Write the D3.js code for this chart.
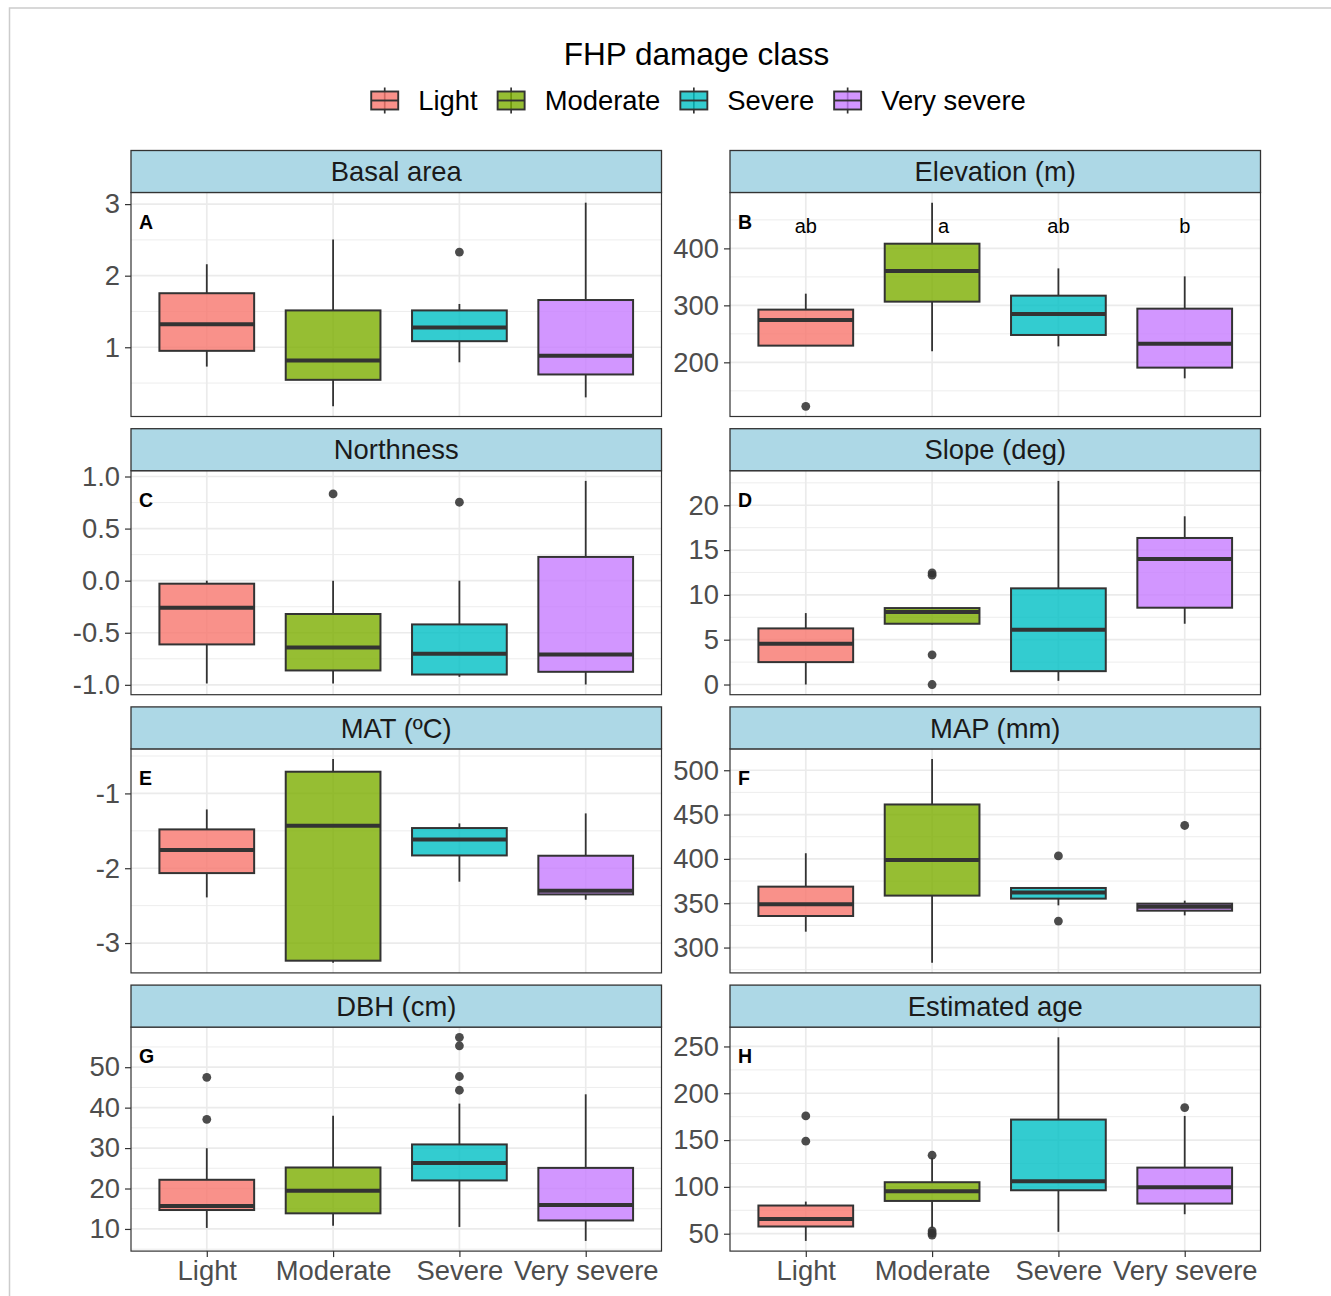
<!DOCTYPE html>
<html><head><meta charset="utf-8">
<script src="https://cdn.jsdelivr.net/npm/d3@7"></script>
<style>
body{margin:0;background:#fff}
svg{display:block}
text{font-family:"Liberation Sans",Arial,Helvetica,sans-serif}
</style>
</head><body>
<svg id="chart" width="1331" height="1296"></svg>
<script>
// ---------------- data ----------------
const categories = ["Light", "Moderate", "Severe", "Very severe"];
const classColors = ["#F8766D", "#7CAE00", "#00BFC4", "#C77CFF"];
const legendTitle = "FHP damage class";

const panelTitles = ["Basal area", "Elevation (m)", "Northness", "Slope (deg)",
                     "MAT (\u00BAC)", "MAP (mm)", "DBH (cm)", "Estimated age"];
const panelTags = ["A", "B", "C", "D", "E", "F", "G", "H"];

// box stats per class: [lower whisker, Q1, median, Q3, upper whisker]
const basalArea = [[0.73, 0.95, 1.32, 1.755, 2.16], [0.175, 0.545, 0.815, 1.515, 2.505],
                   [0.79, 1.085, 1.275, 1.515, 1.605], [0.30, 0.62, 0.88, 1.66, 3.02]];
const basalAreaOutliers = [[], [], [2.33], []];
const basalAreaTicks = ["1", "2", "3"];

const elevation = [[229, 229.3, 274.4, 292.5, 320.5], [219.3, 306.5, 360.3, 408.2, 480.2],
                   [228, 248, 284.9, 317, 364.9], [171.9, 190.7, 232.8, 294.2, 350.9]];
const elevationOutliers = [[122.8], [], [], []];
const elevationTicks = ["200", "300", "400"];
const elevationLetters = ["ab", "a", "ab", "b"];
const elevationLetterY = 440;
const elevationLetterNudge = [0, 0.09, 0, 0]; // in category units

const northness = [[-0.987, -0.612, -0.26, -0.029, 0.0], [-0.987, -0.862, -0.641, -0.32, 0.0],
                   [-0.923, -0.901, -0.702, -0.42, 0.0], [-0.997, -0.875, -0.708, 0.228, 0.958]];
const northnessOutliers = [[], [0.833], [0.753], []];
const northnessTicks = ["-1.0", "-0.5", "0.0", "0.5", "1.0"];

const slope = [[0, 2.5, 4.54, 6.26, 7.97], [6.7, 6.78, 8.08, 8.53, 8.6],
               [0.41, 1.49, 6.11, 10.73, 22.72], [6.78, 8.57, 14.0, 16.35, 18.77]];
const slopeOutliers = [[], [12.2, 12.45, 3.31, 0], [], []];
const slopeTicks = ["0", "5", "10", "15", "20"];

const mat = [[-2.39, -2.065, -1.757, -1.481, -1.214], [-3.263, -3.236, -1.432, -0.71, -0.541],
             [-2.18, -1.829, -1.615, -1.463, -1.401], [-2.421, -2.35, -2.301, -1.833, -1.267]];
const matOutliers = [[], [], [], []];
const matTicks = ["-3", "-2", "-1"];

const map = [[317.9, 335.6, 348.8, 368.7, 406.4], [282.9, 358.6, 398.9, 461.4, 512.6],
             [347.6, 355.2, 362, 367.2, 367.5], [336.3, 341.6, 346.1, 349.5, 352.9]];
const mapOutliers = [[], [], [403.4, 329.9], [437.7]];
const mapTicks = ["300", "350", "400", "450", "500"];

const dbh = [[10.25, 14.68, 15.67, 22.16, 29.96], [10.8, 13.86, 19.45, 25.2, 38.0],
             [10.5, 22.0, 26.3, 30.9, 41.0], [7.04, 12.1, 15.9, 25.1, 43.3]];
const dbhOutliers = [[47.5, 37.1], [], [57.4, 55.3, 47.7, 44.3], []];
const dbhTicks = ["10", "20", "30", "40", "50"];

const age = [[42.3, 57.7, 65.8, 80.1, 84.3], [56, 85, 95.4, 105, 131],
             [52, 96.4, 106, 171.9, 259.8], [70.8, 82.2, 99.6, 120.6, 175.8]];
const ageOutliers = [[175.8, 148.8], [133.8, 53, 50.5, 48.5], [], [184.7]];
const ageTicks = ["50", "100", "150", "200", "250"];

// ---------------- assemble ----------------
const panelStats = [basalArea, elevation, northness, slope, mat, map, dbh, age];
const panelOutliers = [basalAreaOutliers, elevationOutliers, northnessOutliers, slopeOutliers,
                       matOutliers, mapOutliers, dbhOutliers, ageOutliers];
const panelTicks = [basalAreaTicks, elevationTicks, northnessTicks, slopeTicks,
                    matTicks, mapTicks, dbhTicks, ageTicks];

// ---------------- layout ----------------
const svg = d3.select("#chart");
const W = 1331, H = 1296;
const colX = [131, 730], panelW = 530.5;
const rowTop0 = 150.5, rowStep = 278.2, stripH = 42, panelH = 224;
const FS = 27.4;
const grid = "#EBEBEB", dark = "#333333";

svg.append("rect").attr("width", W).attr("height", H).attr("fill", "#fff");
svg.append("rect").attr("x", 9.5).attr("y", 8).attr("width", W + 20).attr("height", H + 20)
  .attr("fill", "none").attr("stroke", "#CCCCCC").attr("stroke-width", 1.5);

// ---------------- legend ----------------
const legY = 100.5;
const leg = svg.append("g");
let cx = 0;
categories.forEach((c, i) => {
  const g = leg.append("g");
  const bw = 27, bh = 18;
  g.append("line").attr("x1", cx + bw / 2).attr("x2", cx + bw / 2).attr("y1", legY - 13).attr("y2", legY + 13)
    .attr("stroke", dark).attr("stroke-width", 1.7);
  g.append("rect").attr("x", cx).attr("y", legY - bh / 2).attr("width", bw).attr("height", bh)
    .attr("fill", classColors[i]).attr("fill-opacity", 0.8).attr("stroke", dark).attr("stroke-width", 1.9);
  g.append("line").attr("x1", cx).attr("x2", cx + bw).attr("y1", legY).attr("y2", legY)
    .attr("stroke", dark).attr("stroke-width", 1.9);
  const t = g.append("text").attr("x", cx + bw + 20).attr("y", legY + 9.5).attr("font-size", FS)
    .attr("fill", "#000").text(c);
  const tw = t.node().getComputedTextLength();
  cx = cx + bw + 20 + tw + 20;
});
const legW = cx - 20;
const legCenter = 698.5;
leg.attr("transform", `translate(${legCenter - legW / 2},0)`);
svg.append("text").attr("x", legCenter - 2).attr("y", 64.5).attr("text-anchor", "middle")
  .attr("font-size", 31.5).attr("fill", "#000").text(legendTitle);

// ---------------- panels ----------------
panelTitles.forEach((title, p) => {
  const col = p % 2, row = Math.floor(p / 2);
  const x0 = colX[col];
  const sTop = rowTop0 + row * rowStep;
  const pTop = sTop + stripH, pBot = pTop + panelH;
  const stats = panelStats[p], outs = panelOutliers[p];
  const tickLabels = panelTicks[p];
  const tickVals = tickLabels.map(Number);

  const allVals = stats.flat().concat(outs.flat());
  const lo = d3.min(allVals), hi = d3.max(allVals), pad = (hi - lo) * 0.05;
  const y = d3.scaleLinear().domain([lo - pad, hi + pad]).range([pBot, pTop]);
  const x = d3.scalePoint().domain(categories).range([x0, x0 + panelW]).padding(0.6);
  const step = x.step();
  const boxW = step * 0.75;

  const g = svg.append("g");
  g.append("rect").attr("x", x0).attr("y", pTop).attr("width", panelW).attr("height", panelH).attr("fill", "#fff");

  // minor grid
  const dStep = tickVals[1] - tickVals[0];
  const ext = [tickVals[0] - dStep].concat(tickVals, [tickVals[tickVals.length - 1] + dStep]);
  const minors = [];
  for (let i = 0; i < ext.length - 1; i++) minors.push((ext[i] + ext[i + 1]) / 2);
  const [dLo, dHi] = y.domain();
  g.selectAll(".minor").data(minors.filter(v => v >= dLo && v <= dHi)).join("line")
    .attr("x1", x0).attr("x2", x0 + panelW).attr("y1", d => y(d)).attr("y2", d => y(d))
    .attr("stroke", grid).attr("stroke-width", 0.9);
  g.selectAll(".major").data(tickVals).join("line")
    .attr("x1", x0).attr("x2", x0 + panelW).attr("y1", d => y(d)).attr("y2", d => y(d))
    .attr("stroke", grid).attr("stroke-width", 1.7);
  g.selectAll(".vgrid").data(categories).join("line")
    .attr("x1", d => x(d)).attr("x2", d => x(d)).attr("y1", pTop).attr("y2", pBot)
    .attr("stroke", grid).attr("stroke-width", 1.7);

  // boxes
  categories.forEach((c, i) => {
    const [wl, q1, md, q3, wh] = stats[i];
    const xc = x(c);
    g.append("line").attr("x1", xc).attr("x2", xc).attr("y1", y(q3)).attr("y2", y(wh))
      .attr("stroke", dark).attr("stroke-width", 1.8);
    g.append("line").attr("x1", xc).attr("x2", xc).attr("y1", y(q1)).attr("y2", y(wl))
      .attr("stroke", dark).attr("stroke-width", 1.8);
    g.append("rect").attr("x", xc - boxW / 2).attr("y", y(q3)).attr("width", boxW)
      .attr("height", y(q1) - y(q3))
      .attr("fill", classColors[i]).attr("fill-opacity", 0.8)
      .attr("stroke", dark).attr("stroke-width", 2);
    g.append("line").attr("x1", xc - boxW / 2).attr("x2", xc + boxW / 2).attr("y1", y(md)).attr("y2", y(md))
      .attr("stroke", dark).attr("stroke-width", 4);
    g.selectAll(null).data(outs[i]).join("circle")
      .attr("cx", xc).attr("cy", d => y(d)).attr("r", 4.4)
      .attr("fill", dark).attr("fill-opacity", 0.88);
  });

  // significance letters
  if (p === 1) {
    g.selectAll(".let").data(elevationLetters).join("text")
      .attr("x", (d, i) => x(categories[i]) + elevationLetterNudge[i] * step).attr("y", y(elevationLetterY))
      .attr("dy", "0.35em").attr("text-anchor", "middle").attr("font-size", 20).attr("fill", "#000")
      .text(d => d);
  }

  // tag
  g.append("text").attr("x", x0 + 8).attr("y", pTop + 36).attr("font-size", 19.5).attr("font-weight", "bold")
    .attr("fill", "#000").text(panelTags[p]);

  // panel border
  g.append("rect").attr("x", x0).attr("y", pTop).attr("width", panelW).attr("height", panelH)
    .attr("fill", "none").attr("stroke", dark).attr("stroke-width", 1.2);

  // strip
  g.append("rect").attr("x", x0).attr("y", sTop).attr("width", panelW).attr("height", stripH)
    .attr("fill", "#ADD8E6").attr("stroke", dark).attr("stroke-width", 1.3);
  g.append("text").attr("x", x0 + panelW / 2).attr("y", sTop + stripH / 2 + 9.6)
    .attr("text-anchor", "middle").attr("font-size", FS).attr("fill", "#1A1A1A").text(title);

  // y axis
  const ya = g.append("g").attr("transform", `translate(${x0},0)`)
    .call(d3.axisLeft(y).tickValues(tickVals).tickFormat((d, i) => tickLabels[i]).tickSize(6).tickPadding(5));
  ya.select(".domain").remove();
  ya.selectAll(".tick line").attr("stroke", dark).attr("stroke-width", 1.2);
  ya.selectAll(".tick text").attr("fill", "#4D4D4D").attr("font-size", FS)
    .attr("font-family", '"Liberation Sans",Arial,sans-serif');

  // x axis (bottom row only)
  if (row === 3) {
    const xa = g.append("g").attr("transform", `translate(0,${pBot})`)
      .call(d3.axisBottom(x).tickSize(6).tickPadding(3.5));
    xa.select(".domain").remove();
    xa.selectAll(".tick line").attr("stroke", dark).attr("stroke-width", 1.2);
    xa.selectAll(".tick text").attr("fill", "#4D4D4D").attr("font-size", FS)
      .attr("font-family", '"Liberation Sans",Arial,sans-serif');
  }
});
</script>
</body></html>
